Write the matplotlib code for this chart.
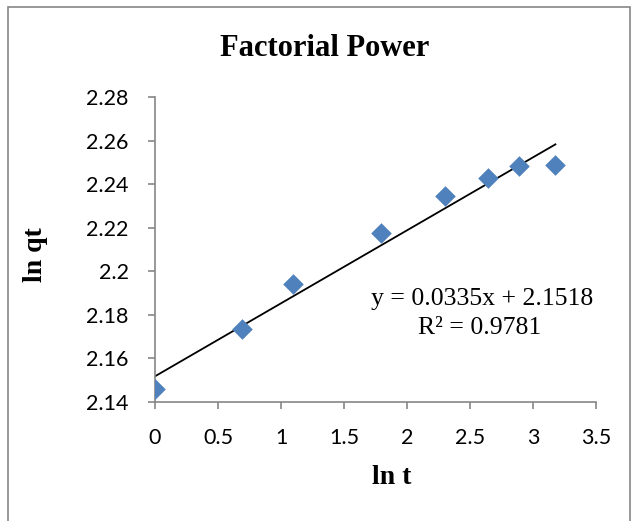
import matplotlib
matplotlib.use("Agg")
import matplotlib.pyplot as plt
from matplotlib.patches import Rectangle

# données
ln_t = [0.0, 0.693, 1.099, 1.792, 2.303, 2.639, 2.890, 3.178]
ln_qt = [2.1458, 2.1735, 2.1940, 2.2175, 2.2345, 2.2430, 2.2485, 2.2488]
pente = 0.0335
ordonnee = 2.1518
r2 = 0.9781

bleu = '#4F81BD'
gris = '#868686'

fig = plt.figure(figsize=(6.32, 5.21), dpi=100)
ax = fig.add_axes([155/632, 1 - 402/521, 441/632, 305/521])

# cadre autour du graphique
fig.patches.append(Rectangle((8/632, -0.02), 622/632, 1 - 7/521 + 0.02,
                             transform=fig.transFigure, fill=False,
                             edgecolor=gris, linewidth=1.2))

ax.scatter(ln_t, ln_qt, marker='D', s=110, color=bleu, zorder=3, linewidths=0)

x_ligne = [min(ln_t), max(ln_t)]
y_ligne = [pente * x + ordonnee for x in x_ligne]
ax.plot(x_ligne, y_ligne, color='black', linewidth=1.3, zorder=2)

ax.set_xlim(0, 3.5)
ax.set_ylim(2.14, 2.28)
ax.set_xticks([0, 0.5, 1, 1.5, 2, 2.5, 3, 3.5])
ax.set_xticklabels(['0', '0.5', '1', '1.5', '2', '2.5', '3', '3.5'])
ax.set_yticks([2.14, 2.16, 2.18, 2.2, 2.22, 2.24, 2.26, 2.28])
ax.set_yticklabels(['2.14', '2.16', '2.18', '2.2', '2.22', '2.24', '2.26', '2.28'])

for s in ['top', 'right']:
    ax.spines[s].set_visible(False)
for s in ['left', 'bottom']:
    ax.spines[s].set_color(gris)
    ax.spines[s].set_linewidth(1.2)
ax.tick_params(direction='out', length=5, width=1.2, color=gris,
               labelsize=15.5, labelcolor='black')
ax.tick_params(axis='y', pad=14)
ax.tick_params(axis='x', pad=14)
for lab in ax.get_xticklabels() + ax.get_yticklabels():
    lab.set_family('Lato')

fig.text(325/632, 1 - 48/521, 'Factorial Power', ha='center', va='center',
         family='Liberation Serif', fontweight='bold', fontsize=22)
fig.text(392/632, 1 - 478/521, 'ln t', ha='center', va='center',
         family='Liberation Serif', fontweight='bold', fontsize=20)
fig.text(36/632, 1 - 255/521, 'ln qt', ha='center', va='center', rotation=90,
         family='Liberation Serif', fontweight='bold', fontsize=20)

fig.text(482/632, 1 - 299/521, f'y = {pente}x + {ordonnee}', ha='center', va='center',
         family='Liberation Serif', fontsize=18.5)
fig.text(480/632, 1 - 328/521, f'R² = {r2}', ha='center', va='center',
         family='Liberation Serif', fontsize=18.5)

fig.savefig('out.png', dpi=100)
